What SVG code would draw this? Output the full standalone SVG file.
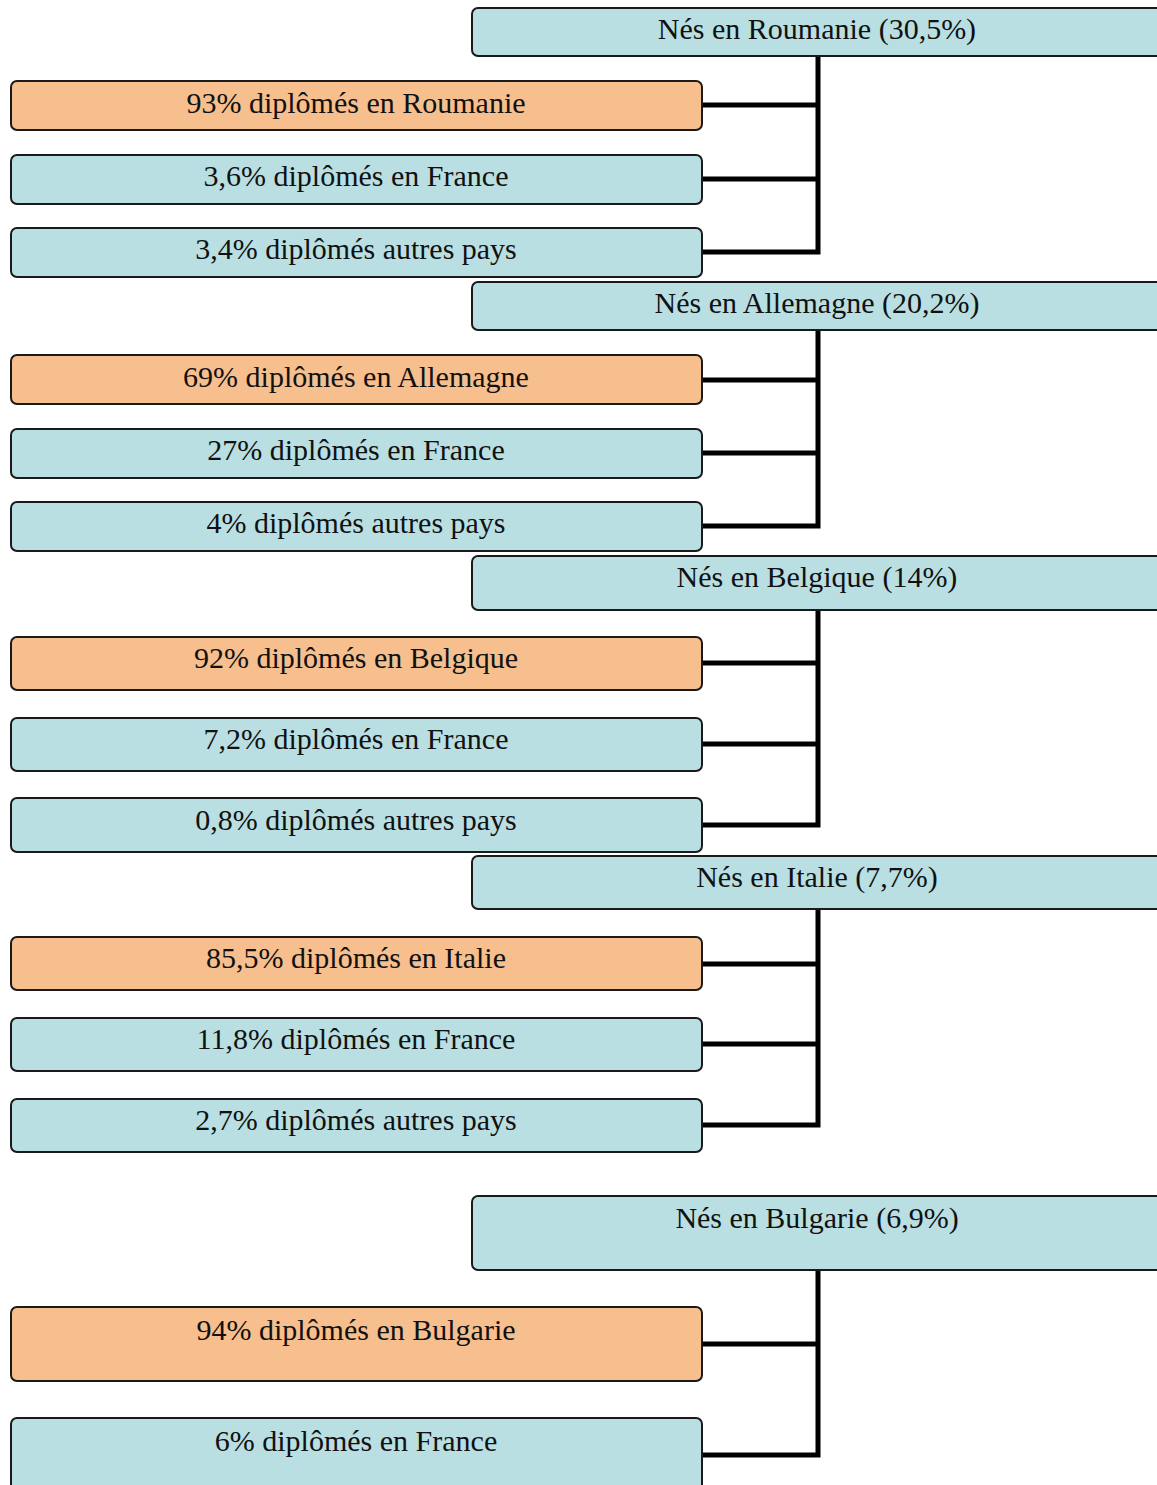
<svg xmlns="http://www.w3.org/2000/svg" width="1157" height="1485" viewBox="0 0 1157 1485">
<style>
.b{fill:#b9dfe3;stroke:#1a1a1a;stroke-width:2}
.o{fill:#f7be8e;stroke:#1a1a1a;stroke-width:2}
text{font-family:"Liberation Serif","DejaVu Serif",serif;font-size:30px;fill:#111;text-anchor:middle}
.c{fill:none;stroke:#000;stroke-width:5;stroke-linecap:square}
</style>
<rect width="1157" height="1485" fill="#fff"/>
<g id="connectors">
<path class="c" d="M818 56V252M702 105H818M702 179H818M702 252H818"/>
<path class="c" d="M818 330V526M702 380H818M702 453H818M702 526H818"/>
<path class="c" d="M818 610V825M702 663H818M702 744H818M702 825H818"/>
<path class="c" d="M818 909V1125M702 964H818M702 1044H818M702 1125H818"/>
<path class="c" d="M818 1270V1455M702 1344H818M702 1455H818"/>
</g>
<g id="roumanie"><rect class="b" x="472" y="8" width="700" height="48" rx="6"/><text x="817" y="39">Nés en Roumanie (30,5%)</text></g>
<g id="rou1"><rect class="o" x="11" y="81" width="691" height="49" rx="6"/><text x="356" y="113">93% diplômés en Roumanie</text></g>
<g id="rou2"><rect class="b" x="11" y="155" width="691" height="49" rx="6"/><text x="356" y="186">3,6% diplômés en France</text></g>
<g id="rou3"><rect class="b" x="11" y="228" width="691" height="49" rx="6"/><text x="356" y="259">3,4% diplômés autres pays</text></g>

<g id="allemagne"><rect class="b" x="472" y="282" width="700" height="48" rx="6"/><text x="817" y="313">Nés en Allemagne (20,2%)</text></g>
<g id="all1"><rect class="o" x="11" y="355" width="691" height="49" rx="6"/><text x="356" y="387">69% diplômés en Allemagne</text></g>
<g id="all2"><rect class="b" x="11" y="429" width="691" height="49" rx="6"/><text x="356" y="460">27% diplômés en France</text></g>
<g id="all3"><rect class="b" x="11" y="502" width="691" height="49" rx="6"/><text x="356" y="533">4% diplômés autres pays</text></g>

<g id="belgique"><rect class="b" x="472" y="556" width="700" height="54" rx="6"/><text x="817" y="587">Nés en Belgique (14%)</text></g>
<g id="bel1"><rect class="o" x="11" y="637" width="691" height="53" rx="6"/><text x="356" y="668">92% diplômés en Belgique</text></g>
<g id="bel2"><rect class="b" x="11" y="718" width="691" height="53" rx="6"/><text x="356" y="749">7,2% diplômés en France</text></g>
<g id="bel3"><rect class="b" x="11" y="798" width="691" height="54" rx="6"/><text x="356" y="830">0,8% diplômés autres pays</text></g>

<g id="italie"><rect class="b" x="472" y="856" width="700" height="53" rx="6"/><text x="817" y="887">Nés en Italie (7,7%)</text></g>
<g id="ita1"><rect class="o" x="11" y="937" width="691" height="53" rx="6"/><text x="356" y="968">85,5% diplômés en Italie</text></g>
<g id="ita2"><rect class="b" x="11" y="1018" width="691" height="53" rx="6"/><text x="356" y="1049">11,8% diplômés en France</text></g>
<g id="ita3"><rect class="b" x="11" y="1099" width="691" height="53" rx="6"/><text x="356" y="1130">2,7% diplômés autres pays</text></g>

<g id="bulgarie"><rect class="b" x="472" y="1196" width="700" height="74" rx="6"/><text x="817" y="1228">Nés en Bulgarie (6,9%)</text></g>
<g id="bul1"><rect class="o" x="11" y="1307" width="691" height="74" rx="6"/><text x="356" y="1340">94% diplômés en Bulgarie</text></g>
<g id="bul2"><rect class="b" x="11" y="1418" width="691" height="80" rx="6"/><text x="356" y="1451">6% diplômés en France</text></g>
</svg>
